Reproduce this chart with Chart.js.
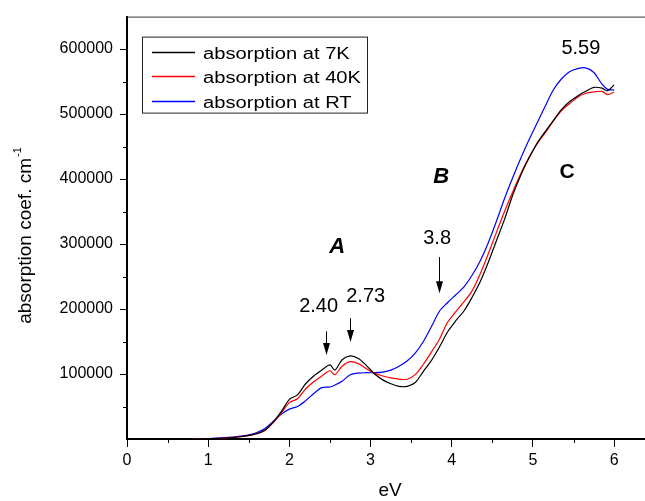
<!DOCTYPE html>
<html>
<head>
<meta charset="utf-8">
<title>absorption spectra</title>
<script src="https://cdn.jsdelivr.net/npm/chart.js@4/dist/chart.umd.min.js"></script>
<style>
  html, body { margin: 0; padding: 0; background: #fff; }
  #wrap { width: 645px; height: 501px; }
</style>
</head>
<body>
<div id="wrap"><canvas id="absChart" width="645" height="501"></canvas></div>
<script>
// photon energy (eV)
const energy = [0.8, 1.0, 1.2, 1.4, 1.5, 1.6, 1.7, 1.8, 1.9, 2.0, 2.1, 2.2, 2.3, 2.4, 2.5, 2.56, 2.65, 2.75, 2.85, 2.95,
    3.05, 3.15, 3.25, 3.35, 3.45, 3.55, 3.65, 3.75, 3.85, 3.95, 4.05, 4.15, 4.25, 4.35, 4.45, 4.55, 4.65, 4.75, 4.85, 4.95,
    5.05, 5.15, 5.25, 5.35, 5.45, 5.55, 5.65, 5.75, 5.85, 5.92, 6.0];

// absorption coefficient (cm^-1)
const abs7K = [0, 500, 1500, 3500, 5500, 8500, 14000, 26000, 42000, 61000, 68000, 85000, 97000, 106000, 114000, 106000, 122000, 128000, 124000, 113000,
    100000, 91000, 85000, 81000, 81000, 87000, 104000, 121000, 142000, 165000, 182000, 197000, 218000, 242000, 272000, 305000, 338000, 375000, 406000, 432000,
    455000, 473000, 490000, 507000, 519000, 528000, 535000, 541000, 540000, 536000, 545000];
const abs40K = [0, 500, 1500, 3500, 5000, 8000, 13000, 25000, 40000, 56000, 62000, 77000, 88000, 97000, 105000, 99000, 112000, 119000, 116000, 108000,
    101000, 97000, 94000, 92000, 92000, 99000, 115000, 134000, 154000, 180000, 196000, 211000, 228000, 254000, 285000, 318000, 350000, 380000, 408000, 433000,
    454000, 471000, 489000, 505000, 516000, 526000, 532000, 534000, 535000, 530000, 534000];
const absRT = [0, 500, 2000, 4500, 6500, 10000, 16000, 27000, 38000, 46000, 50000, 59000, 70000, 79000, 80000, 83000, 89000, 99000, 101500, 102000,
    102000, 103000, 106000, 112000, 120000, 132000, 150000, 173000, 197000, 210000, 222000, 234000, 252000, 274000, 302000, 335000, 370000, 402000, 432000, 460000,
    486000, 512000, 537000, 554000, 565000, 570000, 571000, 564000, 546000, 538000, 537000];

const seriesLabels = ['absorption at 7K', 'absorption at 40K', 'absorption at RT'];
const seriesColors = ['#000000', '#ff0000', '#0000ff'];

// axis ticks
const xTicks = [0, 1, 2, 3, 4, 5, 6];
const yTicks = [100000, 200000, 300000, 400000, 500000, 600000];

// text labels in data coordinates (x in eV, y = baseline in cm^-1)
const noteText = ['5.59', 'C', 'B', 'A', '3.8', '2.40', '2.73'];
const noteX = [5.59, 5.42, 3.87, 2.59, 3.82, 2.36, 2.94];
const noteY = [592500, 402000, 394400, 286100, 300300, 195100, 210400];
const noteFont = ['20px', 'bold 21px', 'italic bold 22px', 'italic bold 22px', '20px', '20px', '20px'];

// arrows: x, start y, tip y
const arrowX = [2.45, 2.75, 3.84];
const arrowFrom = [165700, 186000, 280000];
const arrowTo = [129100, 149400, 224100];

const FONT = '"Liberation Sans", Arial, sans-serif';

function pts(vals) {
    return energy.map((e, i) => ({ x: e, y: vals[i] }));
}

const decorPlugin = {
    id: 'decor',
    afterDraw(chart) {
        const ctx = chart.ctx;
        const area = chart.chartArea;
        const xs = chart.scales.x;
        const ys = chart.scales.y;
        ctx.save();

        // top frame
        ctx.strokeStyle = '#333';
        ctx.lineWidth = 1;
        ctx.beginPath();
        ctx.moveTo(area.left, area.top + 0.5);
        ctx.lineTo(area.right, area.top + 0.5);
        ctx.stroke();

        // minor ticks
        ctx.strokeStyle = '#000';
        ctx.beginPath();
        for (let v = 0.5; v < xs.max; v += 1) {
            const px = Math.round(xs.getPixelForValue(v)) + 0.5;
            ctx.moveTo(px, area.bottom);
            ctx.lineTo(px, area.bottom + 4);
        }
        for (let v = 50000; v < ys.max; v += 100000) {
            const py = Math.round(ys.getPixelForValue(v)) + 0.5;
            ctx.moveTo(area.left, py);
            ctx.lineTo(area.left - 4, py);
        }
        ctx.stroke();

        // notes
        ctx.fillStyle = '#000';
        ctx.textAlign = 'center';
        ctx.textBaseline = 'alphabetic';
        noteText.forEach((t, i) => {
            ctx.font = noteFont[i] + ' ' + FONT;
            ctx.fillText(t, xs.getPixelForValue(noteX[i]), ys.getPixelForValue(noteY[i]));
        });

        // arrows
        arrowX.forEach((v, i) => {
            const px = Math.round(xs.getPixelForValue(v)) + 0.5;
            const y0 = ys.getPixelForValue(arrowFrom[i]);
            const y1 = ys.getPixelForValue(arrowTo[i]);
            ctx.lineWidth = 1;
            ctx.beginPath();
            ctx.moveTo(px, y0);
            ctx.lineTo(px, y1 - 8);
            ctx.stroke();
            ctx.beginPath();
            ctx.moveTo(px - 3.5, y1 - 12);
            ctx.lineTo(px + 3.5, y1 - 12);
            ctx.lineTo(px, y1);
            ctx.closePath();
            ctx.fill();
        });

        // legend box
        const lx = area.left + 15, ly = area.top + 20, lw = 225, lh = 76;
        ctx.strokeStyle = '#222';
        ctx.lineWidth = 1;
        ctx.strokeRect(lx + 0.5, ly + 0.5, lw, lh);
        chart.data.datasets.forEach((ds, i) => {
            const cy = ly + 15 + i * 24.5;
            ctx.strokeStyle = seriesColors[i];
            ctx.lineWidth = 1.3;
            ctx.beginPath();
            ctx.moveTo(lx + 10, Math.round(cy) + 0.5);
            ctx.lineTo(lx + 53, Math.round(cy) + 0.5);
            ctx.stroke();
            ctx.save();
            ctx.translate(lx + 61, cy + 7);
            ctx.scale(1.26, 1);
            ctx.font = '16px ' + FONT;
            ctx.textAlign = 'left';
            ctx.fillStyle = '#000';
            ctx.fillText(ds.label, 0, 0);
            ctx.restore();
        });

        // axis titles
        ctx.fillStyle = '#000';
        ctx.font = '19px ' + FONT;
        ctx.textAlign = 'center';
        ctx.fillText('eV', (area.left + area.right) / 2 + 4, 496);

        ctx.save();
        ctx.translate(31, 236);
        ctx.rotate(-Math.PI / 2);
        const main = 'absorption coef. cm';
        ctx.font = '19px ' + FONT;
        const w1 = ctx.measureText(main).width;
        ctx.font = '11px ' + FONT;
        const w2 = ctx.measureText('-1').width;
        const start = -(w1 + w2) / 2;
        ctx.textAlign = 'left';
        ctx.font = '19px ' + FONT;
        ctx.fillText(main, start, 0);
        ctx.font = '11px ' + FONT;
        ctx.fillText('-1', start + w1 + 1, -10);
        ctx.restore();

        ctx.restore();
    }
};

new Chart(document.getElementById('absChart').getContext('2d'), {
    type: 'line',
    data: {
        datasets: [
            { label: seriesLabels[0], data: pts(abs7K), borderColor: seriesColors[0] },
            { label: seriesLabels[1], data: pts(abs40K), borderColor: seriesColors[1] },
            { label: seriesLabels[2], data: pts(absRT), borderColor: seriesColors[2] }
        ]
    },
    options: {
        responsive: false,
        animation: false,
        events: [],
        datasets: {
            line: { borderWidth: 1.2, pointRadius: 0, tension: 0.3, fill: false }
        },
        layout: { padding: { top: 13, right: 0, left: 0, bottom: 0 } },
        plugins: {
            legend: { display: false },
            tooltip: { enabled: false }
        },
        scales: {
            x: {
                type: 'linear',
                min: 0,
                max: 6.38,
                afterFit(scale) { scale.height = 62; },
                afterBuildTicks(scale) { scale.ticks = xTicks.map(v => ({ value: v })); },
                border: { display: true, color: '#000', width: 2 },
                grid: { drawOnChartArea: false, color: '#000', tickLength: 8, tickWidth: 1 },
                ticks: {
                    padding: 4,
                    color: '#000',
                    font: { family: FONT, size: 16 }
                }
            },
            y: {
                min: 0,
                max: 650000,
                afterFit(scale) { scale.width = 127; },
                afterBuildTicks(scale) { scale.ticks = yTicks.map(v => ({ value: v })); },
                border: { display: true, color: '#000', width: 2 },
                grid: { drawOnChartArea: false, color: '#000', tickLength: 7, tickWidth: 1 },
                ticks: {
                    padding: 7,
                    color: '#000',
                    font: { family: FONT, size: 16 },
                    callback: (v) => String(v)
                }
            }
        }
    },
    plugins: [decorPlugin]
});
</script>
</body>
</html>
